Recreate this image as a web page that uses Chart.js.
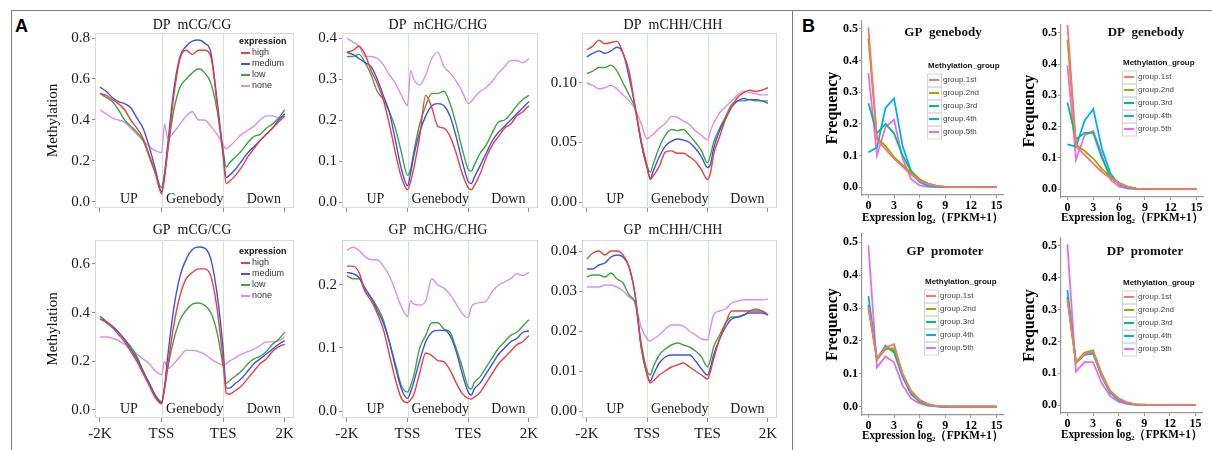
<!DOCTYPE html>
<html>
<head>
<meta charset="utf-8">
<script src="https://cdn.jsdelivr.net/npm/chart.js@4"></script>
<style>
  html, body { margin: 0; padding: 0; background: #fff; }
  #wrap { position: relative; width: 1212px; height: 450px; overflow: hidden; background: #fff; }
  #wrap canvas { position: absolute; left: 0; top: 0; }
  .rule { position: absolute; background: #7d7d7d; }
  .tag { position: absolute; font: bold 18px "Liberation Sans", Arial, sans-serif; color: #000; }
</style>
</head>
<body>
<div id="wrap">
  <div class="rule" style="left:11px;top:10px;width:1201px;height:1px"></div>
  <div class="rule" style="left:11px;top:10px;width:1px;height:440px"></div>
  <div class="rule" style="left:792px;top:10px;width:1px;height:440px"></div>
  <div class="tag" style="left:15px;top:16px">A</div>
  <div class="tag" style="left:802px;top:16px">B</div>
</div>
<script>
// ---------- panel A data (bins: -2K .. TSS .. TES .. 2K) ----------
const binX = [0, 1, 2, 3, 4, 5, 6, 7, 8, 9, 10, 10.5, 11, 12, 13, 14, 15, 16, 17, 18, 19, 20, 20.5, 21, 22, 23, 24, 25, 26, 27, 28, 29, 30];
const regionTicks = [0, 10, 20, 30];
const regionTickLabels = ['-2K', 'TSS', 'TES', '2K'];
const regionNames = ['UP', 'Genebody', 'Down'];
const exprGroups = ['high', 'medium', 'low', 'none'];

const dpCgHigh   = [0.53,0.52,0.50,0.48,0.45,0.40,0.36,0.31,0.23,0.14,0.04, 0.12, 0.25,0.52,0.70,0.74,0.72,0.74,0.74,0.71,0.48,0.22, 0.09, 0.10,0.13,0.17,0.22,0.26,0.30,0.33,0.36,0.39,0.42];
const dpCgMedium = [0.56,0.54,0.51,0.49,0.48,0.46,0.41,0.36,0.27,0.16,0.05, 0.14, 0.28,0.55,0.71,0.76,0.785,0.79,0.775,0.73,0.50,0.24, 0.12, 0.13,0.16,0.20,0.24,0.27,0.30,0.33,0.36,0.40,0.43];
const dpCgLow    = [0.53,0.51,0.49,0.45,0.40,0.37,0.34,0.30,0.22,0.14,0.07, 0.14, 0.25,0.45,0.56,0.60,0.63,0.65,0.63,0.58,0.45,0.25, 0.17, 0.19,0.22,0.25,0.29,0.32,0.33,0.36,0.38,0.41,0.45];
const dpCgNone   = [0.45,0.43,0.41,0.40,0.39,0.36,0.33,0.30,0.27,0.25,0.24, 0.38, 0.31,0.34,0.38,0.42,0.44,0.40,0.40,0.37,0.33,0.28, 0.26, 0.27,0.30,0.33,0.35,0.37,0.40,0.42,0.42,0.41,0.42];

const dpChgHigh   = [0.365,0.37,0.38,0.36,0.32,0.29,0.25,0.19,0.12,0.06,0.03, 0.05, 0.08,0.16,0.26,0.23,0.185,0.18,0.16,0.12,0.07,0.035, 0.03, 0.04,0.07,0.11,0.14,0.16,0.18,0.19,0.21,0.22,0.235];
const dpChgMedium = [0.365,0.36,0.35,0.34,0.33,0.30,0.26,0.22,0.15,0.08,0.04, 0.07, 0.11,0.17,0.21,0.235,0.24,0.235,0.21,0.16,0.10,0.05, 0.045, 0.06,0.09,0.12,0.15,0.17,0.185,0.20,0.215,0.23,0.245];
const dpChgLow    = [0.355,0.355,0.36,0.34,0.31,0.27,0.25,0.22,0.18,0.12,0.065, 0.08, 0.12,0.19,0.235,0.265,0.265,0.27,0.24,0.19,0.13,0.08, 0.075, 0.09,0.12,0.14,0.17,0.195,0.20,0.215,0.235,0.25,0.26];
const dpChgNone   = [0.40,0.39,0.38,0.355,0.355,0.35,0.335,0.31,0.29,0.26,0.235, 0.32, 0.30,0.285,0.31,0.35,0.365,0.33,0.315,0.295,0.27,0.24, 0.245, 0.255,0.27,0.28,0.295,0.315,0.33,0.345,0.345,0.34,0.35];

const dpChhHigh   = [0.128,0.131,0.136,0.133,0.134,0.135,0.125,0.11,0.08,0.052,0.03, 0.019, 0.022,0.03,0.042,0.043,0.041,0.041,0.038,0.034,0.027,0.019, 0.025, 0.04,0.055,0.07,0.08,0.088,0.092,0.094,0.093,0.094,0.096];
const dpChhMedium = [0.122,0.125,0.127,0.125,0.127,0.13,0.125,0.105,0.08,0.05,0.028, 0.02, 0.026,0.038,0.047,0.051,0.053,0.052,0.05,0.045,0.038,0.029, 0.032, 0.045,0.06,0.07,0.08,0.085,0.087,0.086,0.086,0.085,0.083];
const dpChhLow    = [0.108,0.11,0.113,0.113,0.115,0.11,0.10,0.09,0.078,0.05,0.03, 0.025, 0.032,0.046,0.056,0.061,0.06,0.061,0.056,0.05,0.043,0.033, 0.04, 0.05,0.062,0.072,0.082,0.085,0.085,0.086,0.085,0.085,0.085];
const dpChhNone   = [0.10,0.098,0.095,0.096,0.098,0.095,0.09,0.085,0.078,0.066,0.053, 0.055, 0.057,0.062,0.066,0.072,0.071,0.068,0.065,0.06,0.056,0.052, 0.06, 0.066,0.075,0.08,0.085,0.09,0.093,0.092,0.091,0.09,0.09];

const gpCgHigh   = [0.375,0.36,0.34,0.31,0.28,0.24,0.20,0.15,0.10,0.05,0.025, 0.09, 0.18,0.35,0.47,0.54,0.565,0.58,0.58,0.55,0.42,0.20, 0.07, 0.065,0.08,0.10,0.13,0.16,0.19,0.21,0.24,0.26,0.27];
const gpCgMedium = [0.385,0.365,0.345,0.32,0.29,0.25,0.21,0.16,0.11,0.06,0.03, 0.10, 0.22,0.42,0.55,0.62,0.66,0.67,0.665,0.62,0.48,0.25, 0.09, 0.09,0.11,0.13,0.16,0.19,0.21,0.23,0.25,0.27,0.285];
const gpCgLow    = [0.375,0.36,0.34,0.32,0.29,0.26,0.22,0.16,0.11,0.06,0.035, 0.09, 0.17,0.29,0.37,0.41,0.435,0.44,0.43,0.40,0.32,0.18, 0.11, 0.12,0.14,0.16,0.19,0.21,0.22,0.24,0.27,0.29,0.32];
const gpCgNone   = [0.30,0.30,0.295,0.285,0.27,0.25,0.23,0.21,0.19,0.16,0.145, 0.20, 0.17,0.19,0.22,0.245,0.245,0.24,0.23,0.21,0.195,0.185, 0.19, 0.20,0.215,0.23,0.24,0.25,0.265,0.28,0.28,0.285,0.30];

const gpChgHigh   = [0.23,0.23,0.22,0.19,0.175,0.155,0.13,0.09,0.05,0.02,0.013, 0.018, 0.025,0.06,0.092,0.088,0.08,0.078,0.065,0.045,0.028,0.02, 0.019, 0.022,0.03,0.045,0.06,0.075,0.085,0.095,0.105,0.11,0.12];
const gpChgMedium = [0.22,0.218,0.212,0.195,0.18,0.16,0.14,0.11,0.07,0.035,0.02, 0.03, 0.045,0.08,0.11,0.125,0.128,0.128,0.12,0.095,0.06,0.03, 0.025, 0.035,0.045,0.06,0.075,0.09,0.10,0.11,0.115,0.125,0.127];
const gpChgLow    = [0.215,0.21,0.21,0.19,0.18,0.165,0.145,0.11,0.075,0.04,0.03, 0.04, 0.055,0.10,0.12,0.14,0.14,0.13,0.125,0.10,0.07,0.038, 0.035, 0.045,0.055,0.07,0.085,0.10,0.11,0.12,0.125,0.135,0.145];
const gpChgNone   = [0.255,0.26,0.255,0.245,0.24,0.24,0.23,0.215,0.19,0.165,0.15, 0.175, 0.17,0.168,0.175,0.21,0.20,0.195,0.185,0.17,0.155,0.148, 0.165, 0.17,0.172,0.175,0.19,0.20,0.205,0.21,0.218,0.215,0.22];

const gpChhHigh   = [0.038,0.0395,0.040,0.039,0.040,0.040,0.039,0.036,0.029,0.016,0.009, 0.007, 0.0075,0.009,0.010,0.011,0.0115,0.012,0.011,0.010,0.009,0.008, 0.01, 0.013,0.018,0.022,0.025,0.025,0.025,0.025,0.025,0.025,0.024];
const gpChhMedium = [0.0355,0.0355,0.0365,0.037,0.0385,0.039,0.0385,0.036,0.029,0.016,0.009, 0.0075, 0.009,0.012,0.0135,0.014,0.014,0.014,0.014,0.0125,0.0105,0.009, 0.011, 0.014,0.018,0.021,0.023,0.0235,0.024,0.0245,0.0245,0.0245,0.024];
const gpChhLow    = [0.0335,0.034,0.034,0.0335,0.0345,0.033,0.032,0.029,0.027,0.017,0.01, 0.009, 0.011,0.014,0.0155,0.0165,0.017,0.0165,0.016,0.015,0.0135,0.011, 0.013, 0.016,0.019,0.022,0.0235,0.0235,0.024,0.025,0.0255,0.025,0.024];
const gpChhNone   = [0.031,0.031,0.031,0.0315,0.0315,0.031,0.030,0.0285,0.027,0.021,0.018, 0.0175, 0.018,0.019,0.0205,0.0215,0.0215,0.0212,0.020,0.019,0.018,0.0178, 0.021, 0.024,0.025,0.0255,0.027,0.0275,0.0278,0.0278,0.0278,0.0278,0.028];

const dpCgTicks = [0, 0.2, 0.4, 0.6, 0.8];
const dpChgTicks = [0, 0.1, 0.2, 0.3, 0.4];
const dpChhTicks = [0, 0.05, 0.10];
const gpCgTicks = [0, 0.2, 0.4, 0.6];
const gpChgTicks = [0, 0.1, 0.2];
const gpChhTicks = [0, 0.01, 0.02, 0.03, 0.04];

// ---------- panel B data (expression log2(FPKM+1) = 0..15) ----------
const exprX = [0, 1, 2, 3, 4, 5, 6, 7, 8, 9, 10, 11, 12, 13, 14, 15];
const methGroups = ['group.1st', 'group.2nd', 'group.3rd', 'group.4th', 'group.5th'];
const bTicksX = [0, 3, 6, 9, 12, 15];
const bTicksY = [0, 0.1, 0.2, 0.3, 0.4, 0.5];

const gpBody1 = [0.505,0.15,0.12,0.09,0.065,0.04,0.02,0.009,0.003,0.001,0,0,0,0,0,0];
const gpBody2 = [0.47,0.156,0.13,0.095,0.07,0.045,0.024,0.011,0.004,0.001,0,0,0,0,0,0];
const gpBody3 = [0.265,0.17,0.20,0.17,0.10,0.05,0.025,0.01,0.003,0.001,0,0,0,0,0,0];
const gpBody4 = [0.11,0.125,0.25,0.28,0.13,0.05,0.015,0.004,0.001,0,0,0,0,0,0,0];
const gpBody5 = [0.36,0.10,0.19,0.213,0.09,0.025,0.005,0.001,0,0,0,0,0,0,0,0];

const dpBody1 = [0.527,0.136,0.11,0.082,0.055,0.035,0.018,0.007,0.002,0.001,0,0,0,0,0,0];
const dpBody2 = [0.478,0.141,0.122,0.098,0.065,0.04,0.02,0.008,0.002,0.001,0,0,0,0,0,0];
const dpBody3 = [0.277,0.16,0.18,0.18,0.10,0.04,0.02,0.006,0.002,0,0,0,0,0,0,0];
const dpBody4 = [0.143,0.136,0.22,0.256,0.13,0.05,0.015,0.004,0.001,0,0,0,0,0,0,0];
const dpBody5 = [0.396,0.095,0.173,0.186,0.11,0.03,0.008,0.002,0,0,0,0,0,0,0,0];

const gpProm1 = [0.303,0.145,0.18,0.19,0.10,0.045,0.02,0.007,0.002,0.001,0,0,0,0,0,0];
const gpProm2 = [0.30,0.145,0.175,0.178,0.10,0.048,0.02,0.008,0.002,0.001,0,0,0,0,0,0];
const gpProm3 = [0.31,0.143,0.178,0.17,0.095,0.04,0.017,0.006,0.002,0,0,0,0,0,0,0];
const gpProm4 = [0.336,0.145,0.186,0.165,0.09,0.038,0.015,0.005,0.001,0,0,0,0,0,0,0];
const gpProm5 = [0.49,0.12,0.153,0.135,0.065,0.025,0.01,0.003,0.001,0,0,0,0,0,0,0];

const dpProm1 = [0.33,0.133,0.16,0.168,0.095,0.042,0.02,0.007,0.002,0.001,0,0,0,0,0,0];
const dpProm2 = [0.335,0.135,0.165,0.172,0.10,0.045,0.02,0.008,0.002,0.001,0,0,0,0,0,0];
const dpProm3 = [0.34,0.133,0.16,0.165,0.095,0.04,0.018,0.006,0.002,0,0,0,0,0,0,0];
const dpProm4 = [0.362,0.133,0.158,0.162,0.09,0.038,0.015,0.005,0.001,0,0,0,0,0,0,0];
const dpProm5 = [0.505,0.105,0.135,0.135,0.07,0.028,0.01,0.003,0.001,0,0,0,0,0,0,0];

// ---------- styles ----------
const serif = '"Liberation Serif", "Times New Roman", serif';
const sans = '"Liberation Sans", Arial, sans-serif';
const exprColors = ['#f03c3c', '#3f50f0', '#3ea63e', '#dc8ef0'];
const methColors = ['#F8766D', '#A3A500', '#00BF7D', '#00B0F6', '#E76BF3'];
const W = 1212, H = 450;

const wrap = document.getElementById('wrap');
function newCanvas() {
  const c = document.createElement('canvas');
  c.width = W; c.height = H;
  wrap.appendChild(c);
  return c;
}

// titles, panel box, TSS/TES lines, region names and legends
const deco = {
  id: 'deco',
  beforeDatasetsDraw(chart, args, o) {
    const { ctx, chartArea: a, scales: { x } } = chart;
    ctx.save();
    if (o.box) {
      ctx.strokeStyle = '#d9d9d9';
      ctx.lineWidth = 1;
      ctx.strokeRect(a.left + 0.5, a.top + 0.5, a.width - 1, a.height - 1);
      ctx.strokeStyle = '#cbe8cb';
      regionTicks.slice(1, 3).forEach(v => {
        const px = Math.round(x.getPixelForValue(v)) + 0.5;
        ctx.beginPath(); ctx.moveTo(px, a.top + 1); ctx.lineTo(px, a.bottom - 1); ctx.stroke();
      });
    }
    ctx.restore();
  },
  afterDatasetsDraw(chart, args, o) {
    const { ctx, chartArea: a, scales: { x } } = chart;
    ctx.save();
    ctx.textBaseline = 'middle';
    // title
    ctx.fillStyle = '#111';
    ctx.textAlign = 'center';
    ctx.font = o.titleFont;
    ctx.fillText(o.title, o.titleAt[0], o.titleAt[1]);
    // region names
    if (o.box) {
      ctx.font = '14px ' + serif;
      ctx.fillStyle = '#1a1a1a';
      regionNames.forEach((t, k) => ctx.fillText(t, x.getPixelForValue(o.regionAt[k]), a.bottom - 9));
    }
    // legend
    if (o.legend) {
      const [lx, ly] = o.legendAt;
      ctx.textAlign = 'left';
      const ds = chart.data.datasets;
      if (o.legend === 'expr') {
        ctx.font = 'bold 9px ' + sans; ctx.fillStyle = '#111';
        ctx.fillText('expression', lx, ly);
        ctx.font = '9px ' + sans;
        ds.forEach((d, k) => {
          const cy = ly + 11 * (k + 1);
          ctx.strokeStyle = d.borderColor; ctx.lineWidth = 2;
          ctx.beginPath(); ctx.moveTo(lx + 2, cy); ctx.lineTo(lx + 11, cy); ctx.stroke();
          ctx.fillStyle = '#333';
          ctx.fillText(d.label, lx + 13, cy);
        });
      } else {
        ctx.font = 'bold 8px ' + sans; ctx.fillStyle = '#111';
        ctx.fillText('Methylation_group', lx, ly);
        ctx.font = '8px ' + sans;
        ds.forEach((d, k) => {
          const cy = ly + 14 + 13 * k;
          const bx = lx - 1;
          ctx.strokeStyle = '#d6d6d6'; ctx.lineWidth = 1;
          ctx.strokeRect(bx + 0.5, cy - 6, 14, 13);
          ctx.strokeStyle = d.borderColor; ctx.lineWidth = 2;
          ctx.beginPath(); ctx.moveTo(bx + 2, cy); ctx.lineTo(bx + 12, cy); ctx.stroke();
          ctx.fillStyle = '#444';
          ctx.fillText(d.label, bx + 16, cy);
        });
      }
    }
    ctx.restore();
  }
};

function padFor(area, yW, xH) {
  return { left: area.l - yW, top: area.t, right: W - area.r, bottom: H - area.b - xH };
}

// ---------- panel A ----------
const aPlots = [
  { name: 'DP  mCG/CG', series: [dpCgHigh, dpCgMedium, dpCgLow, dpCgNone], ticks: dpCgTicks, dec: 1, yMin: -0.0293, yMax: 0.8244,
    area: { l: 95, r: 294, t: 33, b: 208 }, yW: 51, xH: 10, showX: false, yTitle: true, titleAt: [192, 25], legendAt: [239, 42] },
  { name: 'DP  mCHG/CHG', series: [dpChgHigh, dpChgMedium, dpChgLow, dpChgNone], ticks: dpChgTicks, dec: 1, yMin: -0.0146, yMax: 0.4122,
    area: { l: 342, r: 538, t: 33, b: 208 }, yW: 40, xH: 10, showX: false, titleAt: [438, 25] },
  { name: 'DP  mCHH/CHH', series: [dpChhHigh, dpChhMedium, dpChhLow, dpChhNone], ticks: dpChhTicks, dec: 2, yMin: -0.005, yMax: 0.142,
    area: { l: 582, r: 777, t: 33, b: 208 }, yW: 40, xH: 10, showX: false, titleAt: [673, 25] },
  { name: 'GP  mCG/CG', series: [gpCgHigh, gpCgMedium, gpCgLow, gpCgNone], ticks: gpCgTicks, dec: 1, yMin: -0.0329, yMax: 0.6986,
    area: { l: 95, r: 294, t: 240, b: 418 }, yW: 51, xH: 25, showX: true, yTitle: true, titleAt: [192, 230], legendAt: [239, 252] },
  { name: 'GP  mCHG/CHG', series: [gpChgHigh, gpChgMedium, gpChgLow, gpChgNone], ticks: gpChgTicks, dec: 1, yMin: -0.0111, yMax: 0.2714,
    area: { l: 342, r: 538, t: 240, b: 418 }, yW: 40, xH: 25, showX: true, titleAt: [438, 230] },
  { name: 'GP  mCHH/CHH', series: [gpChhHigh, gpChhMedium, gpChhLow, gpChhNone], ticks: gpChhTicks, dec: 2, yMin: -0.00175, yMax: 0.04275,
    area: { l: 582, r: 777, t: 240, b: 418 }, yW: 40, xH: 25, showX: true, titleAt: [673, 230] },
];

aPlots.forEach(p => {
  new Chart(newCanvas(), {
    type: 'line',
    data: {
      datasets: exprGroups.map((g, k) => ({
        label: g,
        data: binX.map((x, i) => ({ x, y: p.series[k][i] })),
        borderColor: exprColors[k],
        borderWidth: 1.4,
        pointRadius: 0,
        cubicInterpolationMode: 'monotone',
        fill: false,
      })),
    },
    options: {
      responsive: false,
      animation: false,
      events: [],
      layout: { padding: padFor(p.area, p.yW, p.xH) },
      plugins: {
        legend: { display: false },
        tooltip: { enabled: false },
        deco: {
          box: true, title: p.name, titleAt: p.titleAt, titleFont: '14px ' + serif,
          regionAt: [4.7, 15.4, 26.6], legend: p.legendAt ? 'expr' : null, legendAt: p.legendAt || [0, 0],
        },
      },
      scales: {
        x: {
          type: 'linear', min: -0.8, max: 31.5,
          afterFit: s => { s.height = p.xH; },
          afterBuildTicks: ax => { ax.ticks = regionTicks.map(v => ({ value: v })); },
          ticks: {
            autoSkip: false, maxRotation: 0, padding: 3, color: '#1a1a1a',
            font: { family: serif, size: 15 },
            callback: (v, i) => (p.showX ? regionTickLabels[i] : ''),
          },
          grid: { drawOnChartArea: false, tickLength: 4, color: '#8c8c8c' },
          border: { display: false },
        },
        y: {
          min: p.yMin, max: p.yMax,
          afterFit: s => { s.width = p.yW; },
          afterBuildTicks: ax => { ax.ticks = p.ticks.map(v => ({ value: v })); },
          ticks: {
            autoSkip: false, padding: 2, color: '#1a1a1a',
            font: { family: serif, size: 15 },
            callback: v => v.toFixed(p.dec),
          },
          grid: { drawOnChartArea: false, tickLength: 3, color: '#8c8c8c' },
          border: { display: false },
          title: { display: !!p.yTitle, text: 'Methylation', padding: 0, color: '#111', font: { family: serif, size: 15 } },
        },
      },
    },
    plugins: [deco],
  });
});

// ---------- panel B ----------
const bPlots = [
  { name: 'GP  genebody', series: [gpBody1, gpBody2, gpBody3, gpBody4, gpBody5],
    area: { l: 862, r: 1003, t: 21, b: 195 }, yW: 39, xH: 30, titleAt: [943, 33], legendAt: [928, 66] },
  { name: 'DP  genebody', series: [dpBody1, dpBody2, dpBody3, dpBody4, dpBody5],
    area: { l: 1061, r: 1203, t: 25, b: 197 }, yW: 41, xH: 28, titleAt: [1146, 33], legendAt: [1123, 63] },
  { name: 'GP  promoter', series: [gpProm1, gpProm2, gpProm3, gpProm4, gpProm5],
    area: { l: 862, r: 1003, t: 234, b: 415 }, yW: 39, xH: 28, titleAt: [945, 252], legendAt: [925, 282] },
  { name: 'DP  promoter', series: [dpProm1, dpProm2, dpProm3, dpProm4, dpProm5],
    area: { l: 1061, r: 1202, t: 238, b: 413 }, yW: 41, xH: 29, titleAt: [1145, 252], legendAt: [1123, 283] },
];

bPlots.forEach(p => {
  new Chart(newCanvas(), {
    type: 'line',
    data: {
      datasets: methGroups.map((g, k) => ({
        label: g,
        data: exprX.map((x, i) => ({ x, y: p.series[k][i] })),
        borderColor: methColors[k],
        borderWidth: 1.8,
        pointRadius: 0,
        tension: 0,
        fill: false,
      })),
    },
    options: {
      responsive: false,
      animation: false,
      events: [],
      layout: { padding: padFor(p.area, p.yW, p.xH) },
      plugins: {
        legend: { display: false },
        tooltip: { enabled: false },
        deco: {
          box: false, title: p.name, titleAt: p.titleAt, titleFont: 'bold 13px ' + serif,
          legend: 'meth', legendAt: p.legendAt,
        },
      },
      scales: {
        x: {
          type: 'linear', min: -0.75, max: 15.75,
          afterFit: s => { s.height = p.xH; },
          afterBuildTicks: ax => { ax.ticks = bTicksX.map(v => ({ value: v })); },
          ticks: {
            autoSkip: false, maxRotation: 0, padding: 1, color: '#000',
            font: { family: serif, size: 12, weight: 'bold' },
            callback: v => String(v),
          },
          grid: { drawOnChartArea: false, tickLength: 3, color: '#999' },
          border: { display: true, color: '#999', width: 1.2 },
          title: { display: true, text: 'Expression log\u2082\uFF08FPKM+1\uFF09', padding: 0, color: '#000',
                   font: { family: serif, size: 12, weight: 'bold' } },
        },
        y: {
          min: -0.025, max: 0.525,
          afterFit: s => { s.width = p.yW; },
          afterBuildTicks: ax => { ax.ticks = bTicksY.map(v => ({ value: v })); },
          ticks: {
            autoSkip: false, padding: 1, color: '#000',
            font: { family: serif, size: 12, weight: 'bold' },
            callback: v => v.toFixed(1),
          },
          grid: { drawOnChartArea: false, tickLength: 3, color: '#999' },
          border: { display: true, color: '#999', width: 1.2 },
          title: { display: true, text: 'Frequency', padding: 0, color: '#000',
                   font: { family: serif, size: 16, weight: 'bold' } },
        },
      },
    },
    plugins: [deco],
  });
});
</script>
</body>
</html>
